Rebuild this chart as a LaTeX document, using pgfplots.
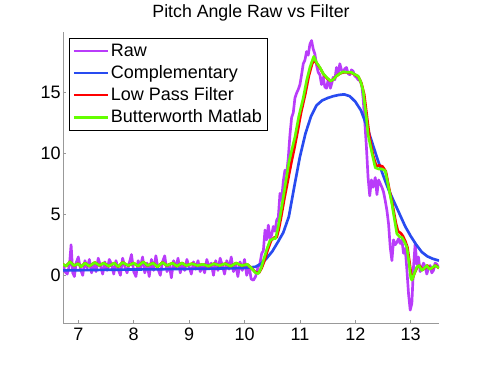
\documentclass[border=0pt]{standalone}
\usepackage{fontspec}
\setmainfont{Liberation Sans}
\usepackage{pgfplots}
\pgfplotsset{compat=1.18}

\definecolor{rawc}{RGB}{185,60,250}
\definecolor{compc}{RGB}{40,75,240}
\definecolor{lpfc}{RGB}{255,0,0}
\definecolor{butc}{RGB}{100,255,0}

\begin{document}
\begin{tikzpicture}
\path[use as bounding box] (-47.25pt,-30.75pt) rectangle (316.5pt,242.25pt);
\begin{axis}[
  scale only axis, width=282pt, height=218.25pt,
  xmin=6.724, xmax=13.51, ymin=-3.9, ymax=19.9,
  axis x line*=bottom, axis y line*=left,
  axis line style={-, draw=gray!80},
  tick pos=left, tick align=inside,
  major tick length=2.5pt,
  tick style={gray!80, line width=0.4pt},
  xtick={7,8,...,13}, ytick={0,5,10,15},
  /pgf/number format/assume math mode=true,
  tick label style={font=\fontsize{13.5}{16}\selectfont, black},
  yticklabel style={inner xsep=1.5pt},
  title={Pitch Angle Raw vs Filter},
  title style={font=\fontsize{13.3}{16}\selectfont, at={(0.5,1)}, anchor=base, yshift=5.2pt},
  legend cell align=left,
  legend image code/.code={\draw[#1, line width=1.6pt] (0pt,0pt) -- (25.5pt,0pt);},
  legend style={at={(0.016,0.979)}, anchor=north west, draw=black, line width=0.6pt,
    font=\fontsize{13.5}{16}\selectfont, inner sep=2.5pt, row sep=2.4pt,
    nodes={inner sep=1.5pt}},
  every axis plot/.append style={line width=2pt, line join=round},
]
\addplot[rawc] coordinates {
(6.72,0.9) (6.76,0.3) (6.80,0.1) (6.84,0.8) (6.87,2.5) (6.90,0.2) (6.93,-0.1) (6.96,1.0)
(7.00,1.5) (7.04,0.5) (7.08,0.0) (7.12,1.2) (7.16,0.6) (7.20,1.3) (7.24,0.2) (7.28,0.9)
(7.32,0.3) (7.36,1.4) (7.40,0.8) (7.44,0.1) (7.48,1.1) (7.52,0.4) (7.56,1.3) (7.60,0.9)
(7.64,0.1) (7.68,1.2) (7.72,0.5) (7.76,0.0) (7.80,1.4) (7.84,0.7) (7.88,0.2) (7.92,1.0)
(7.96,1.7) (8.00,0.3) (8.04,-0.1) (8.08,1.2) (8.12,0.6) (8.16,1.5) (8.20,0.2) (8.24,1.0)
(8.28,-0.1) (8.32,1.3) (8.36,0.4) (8.40,1.6) (8.44,0.5) (8.48,0.0) (8.52,1.1) (8.56,1.6)
(8.60,0.3) (8.64,0.9) (8.68,-0.2) (8.72,1.2) (8.76,0.6) (8.80,1.4) (8.84,0.2) (8.88,1.0)
(8.92,0.4) (8.96,1.3) (9.00,0.7) (9.04,0.1) (9.08,1.1) (9.12,0.5) (9.16,1.2) (9.20,0.3)
(9.24,0.8) (9.28,0.2) (9.32,1.3) (9.36,0.6) (9.40,1.0) (9.44,0.0) (9.48,1.2) (9.52,0.4)
(9.56,1.4) (9.60,0.8) (9.64,0.1) (9.68,1.2) (9.72,0.5) (9.76,1.5) (9.80,0.3) (9.84,0.9)
(9.88,-0.1) (9.92,1.1) (9.96,0.4) (10.00,1.3) (10.04,0.0) (10.08,0.8) (10.12,-0.3) (10.16,-0.4)
(10.20,-0.1) (10.24,0.6) (10.28,1.0) (10.31,1.8) (10.34,2.0) (10.37,3.7) (10.40,2.9) (10.43,4.1)
(10.46,3.0) (10.49,3.3) (10.52,4.0) (10.55,3.6) (10.58,4.5) (10.61,4.75) (10.64,6.7) (10.67,6.2)
(10.70,7.7) (10.73,8.6) (10.76,8.3) (10.79,9.6) (10.82,11.5) (10.85,12.9) (10.88,13.3) (10.91,14.5)
(10.94,14.9) (10.97,15.2) (11.00,15.6) (11.03,16.4) (11.06,17.3) (11.09,17.6) (11.12,18.3) (11.15,18.0)
(11.18,18.9) (11.21,19.2) (11.24,18.5) (11.27,18.1) (11.30,17.2) (11.33,16.6) (11.36,16.4) (11.39,15.6)
(11.42,16.2) (11.45,15.4) (11.48,15.3) (11.51,16.0) (11.55,15.3) (11.58,15.8) (11.60,16.2) (11.63,16.0)
(11.66,17.0) (11.69,16.5) (11.72,17.3) (11.75,16.8) (11.78,16.6) (11.81,16.9) (11.84,17.0) (11.87,16.5)
(11.90,16.4) (11.93,16.8) (11.96,16.7) (11.99,16.3) (12.02,16.2) (12.05,16.0) (12.09,15.9) (12.12,15.4)
(12.14,14.5) (12.17,12.6) (12.20,10.5) (12.23,8.0) (12.26,6.5) (12.29,7.8) (12.32,7.2) (12.36,8.0)
(12.39,6.6) (12.42,7.8) (12.45,7.5) (12.48,7.2) (12.51,6.8) (12.54,6.1) (12.57,5.3) (12.60,4.2)
(12.63,2.3) (12.66,1.2) (12.69,2.9) (12.72,2.5) (12.75,2.7) (12.78,3.0) (12.81,2.6) (12.84,2.9)
(12.87,1.8) (12.90,2.2) (12.93,0.5) (12.96,-1.5) (12.99,-2.85) (13.02,-2.3) (13.05,0.68) (13.08,2.6)
(13.11,0.9) (13.14,1.5) (13.17,0.3) (13.20,0.6) (13.23,1.0) (13.26,0.7) (13.29,0.1) (13.32,0.6)
(13.35,0.8) (13.38,0.2) (13.41,0.4) (13.44,1.0) (13.47,0.9) (13.51,0.6)
};
\addplot[compc] coordinates {
(6.72,0.4) (7.5,0.45) (8.5,0.5) (9.5,0.55) (10.0,0.6) (10.2,0.7) (10.3,0.95) (10.4,1.4)
(10.5,1.95) (10.6,2.7) (10.7,3.5) (10.8,4.8) (10.9,7.3) (11.0,9.7) (11.1,11.6) (11.2,13.0)
(11.3,13.9) (11.4,14.3) (11.5,14.5) (11.6,14.65) (11.7,14.75) (11.8,14.8) (11.9,14.65) (12.0,14.2)
(12.1,13.5) (12.2,12.3) (12.3,10.9) (12.4,9.5) (12.5,8.2) (12.6,7.0) (12.7,6.0) (12.8,5.0)
(12.9,4.0) (13.0,3.2) (13.1,2.5) (13.2,1.9) (13.3,1.55) (13.4,1.35) (13.51,1.2)
};
\addplot[lpfc] coordinates {
(6.72,0.9) (6.78,0.75) (6.85,1.1) (6.92,0.8) (7.0,0.95) (7.05,0.7) (7.12,1.0) (7.2,0.75)
(7.3,1.05) (7.38,0.8) (7.46,1.0) (7.55,0.75) (7.65,1.0) (7.72,0.7) (7.8,1.05) (7.9,0.8)
(8.0,1.0) (8.08,0.75) (8.17,1.1) (8.25,0.8) (8.35,1.0) (8.43,0.7) (8.52,1.05) (8.6,0.8)
(8.7,1.0) (8.78,0.75) (8.87,1.0) (8.95,0.8) (9.05,0.95) (9.15,0.8) (9.25,0.9) (9.35,0.75)
(9.45,0.95) (9.55,0.8) (9.65,0.95) (9.75,0.75) (9.85,1.0) (9.95,0.8) (10.05,0.9) (10.12,0.6)
(10.2,0.25) (10.26,0.2) (10.31,0.6) (10.36,1.2) (10.42,2.1) (10.48,2.85) (10.54,3.1) (10.58,3.1)
(10.62,3.8) (10.66,4.75) (10.72,6.3) (10.78,7.7) (10.84,9.1) (10.9,10.4) (10.96,11.8) (11.02,13.3)
(11.1,14.9) (11.16,16.3) (11.22,17.3) (11.26,17.6) (11.31,17.3) (11.37,16.9) (11.43,16.4) (11.49,16.1)
(11.55,15.9) (11.6,16.0) (11.66,16.3) (11.72,16.5) (11.78,16.6) (11.85,16.6) (11.93,16.55) (12.0,16.4)
(12.06,16.2) (12.11,15.7) (12.16,14.8) (12.22,12.6) (12.26,11.2) (12.32,9.8) (12.38,8.9) (12.43,9.0)
(12.49,8.9) (12.55,8.5) (12.61,7.1) (12.67,5.8) (12.73,4.3) (12.77,3.6) (12.82,3.45) (12.86,3.2)
(12.9,2.8) (12.94,2.3) (12.98,1.0) (13.01,-0.1) (13.03,-0.3) (13.07,0.2) (13.12,0.7) (13.16,0.8)
(13.21,0.45) (13.26,0.6) (13.3,0.8) (13.35,0.55) (13.39,0.6) (13.45,0.8) (13.51,0.6)
};
\addplot[butc] coordinates {
(6.72,0.9) (6.78,0.75) (6.85,1.1) (6.92,0.8) (7.0,0.95) (7.05,0.7) (7.12,1.0) (7.2,0.75)
(7.3,1.05) (7.38,0.8) (7.46,1.0) (7.55,0.75) (7.65,1.0) (7.72,0.7) (7.8,1.05) (7.9,0.8)
(8.0,1.0) (8.08,0.75) (8.17,1.1) (8.25,0.8) (8.35,1.0) (8.43,0.7) (8.52,1.05) (8.6,0.8)
(8.7,1.0) (8.78,0.75) (8.87,1.0) (8.95,0.8) (9.05,0.95) (9.15,0.8) (9.25,0.9) (9.35,0.75)
(9.45,0.95) (9.55,0.8) (9.65,0.95) (9.75,0.75) (9.85,1.0) (9.95,0.8) (10.05,0.9) (10.12,0.6)
(10.2,0.2) (10.25,0.14) (10.3,0.6) (10.34,1.2) (10.4,2.1) (10.46,2.85) (10.52,3.0) (10.56,3.0)
(10.6,3.8) (10.64,4.75) (10.7,6.4) (10.75,7.8) (10.8,9.2) (10.85,10.2) (10.91,11.3) (10.98,13.0)
(11.06,14.5) (11.12,15.9) (11.18,17.0) (11.25,17.9) (11.3,17.4) (11.36,17.0) (11.42,16.5) (11.48,16.2)
(11.55,15.9) (11.6,16.0) (11.66,16.3) (11.72,16.5) (11.78,16.65) (11.85,16.6) (11.93,16.6) (12.0,16.4)
(12.05,16.3) (12.1,15.8) (12.14,15.1) (12.2,12.9) (12.23,11.5) (12.3,10.0) (12.36,8.8) (12.42,8.7)
(12.48,8.7) (12.54,8.55) (12.6,7.2) (12.66,5.85) (12.72,4.2) (12.75,3.4) (12.8,3.15) (12.84,3.1)
(12.88,2.8) (12.93,2.3) (12.97,1.0) (13.0,-0.2) (13.02,-0.4) (13.06,0.1) (13.11,0.68) (13.15,0.8)
(13.2,0.4) (13.25,0.6) (13.29,0.8) (13.34,0.5) (13.38,0.6) (13.44,0.8) (13.51,0.6)
};
\legend{Raw, Complementary, Low Pass Filter, Butterworth Matlab}
\end{axis}
\end{tikzpicture}
\end{document}
